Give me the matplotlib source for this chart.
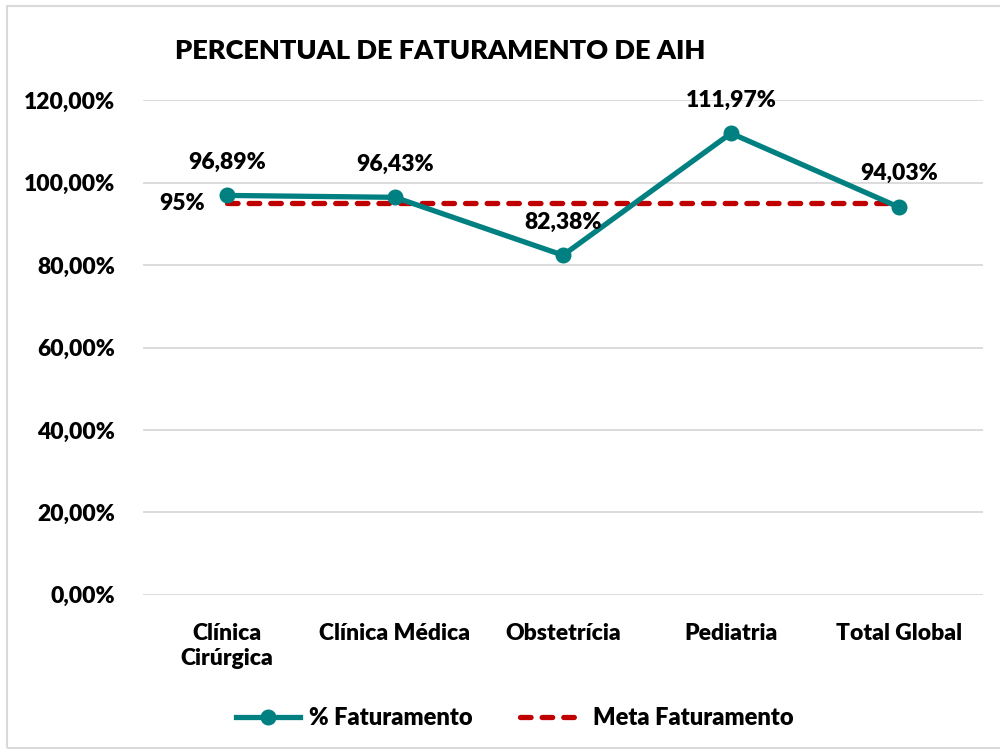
import matplotlib.pyplot as plt
from matplotlib.patches import Rectangle

categorias = ["Clínica\nCirúrgica", "Clínica Médica", "Obstetrícia", "Pediatria", "Total Global"]
faturamento = [96.89, 96.43, 82.38, 111.97, 94.03]
meta = [95, 95, 95, 95, 95]
rotulos = ["96,89%", "96,43%", "82,38%", "111,97%", "94,03%"]
yticks = [0, 20, 40, 60, 80, 100, 120]

plt.rcParams['font.family'] = ['Lato', 'DejaVu Sans']

teal = '#008080'
red = '#C00000'
W = 'heavy'

fig = plt.figure(figsize=(10, 7.53), dpi=100)
ax = fig.add_axes([0.143, 0.21, 0.84, 0.657])

x = list(range(len(categorias)))
ax.plot(x, meta, color=red, lw=3.8, ls=(0, (2.0, 2.1)), dash_capstyle='round',
        label='Meta Faturamento', zorder=2)
ax.plot(x, faturamento, color=teal, lw=3.8, marker='o', ms=10.5,
        label='% Faturamento', zorder=3)

# rótulos dos dados
for xi, yi, txt in zip(x, faturamento, rotulos):
    ax.annotate(txt, (xi, yi), xytext=(0, 24), textcoords='offset points',
                ha='center', va='center', fontsize=16.5, fontweight=W)
ax.annotate("95%", (0, meta[0]), xytext=(-16, 0), textcoords='offset points',
            ha='right', va='center', fontsize=16.5, fontweight=W)

ax.set_ylim(0, 120)
ax.set_xlim(-0.5, len(categorias) - 0.5)
ax.set_yticks(yticks)
ax.set_yticklabels([f"{v},00%" for v in yticks], fontsize=16.5, fontweight=W)
ax.set_xticks(x)
ax.set_xticklabels(categorias, fontsize=16.5, fontweight=W, linespacing=1.25)
ax.tick_params(length=0, pad=20, axis='y')
ax.tick_params(length=0, pad=20, axis='x')
ax.grid(axis='y', color='#d9d9d9', lw=1.3)
ax.set_axisbelow(True)
for s in ax.spines.values():
    s.set_visible(False)

fig.text(0.175, 0.932, "PERCENTUAL DE FATURAMENTO DE AIH", fontsize=19.5,
         fontweight=W, ha='left', va='center')

h, l = ax.get_legend_handles_labels()
leg = fig.legend([h[1], h[0]], [l[1], l[0]], loc='center', bbox_to_anchor=(0.515, 0.046),
                 ncol=2, frameon=False, fontsize=17, handlelength=2.7, columnspacing=2.0,
                 handletextpad=0.4)
for t in leg.get_texts():
    t.set_fontweight(W)

fig.patches.append(Rectangle((0.007, 0.006), 1.5, 0.986, transform=fig.transFigure,
                             fill=False, edgecolor='#d9d9d9', lw=1.5))

fig.savefig('out.png', dpi=100)
